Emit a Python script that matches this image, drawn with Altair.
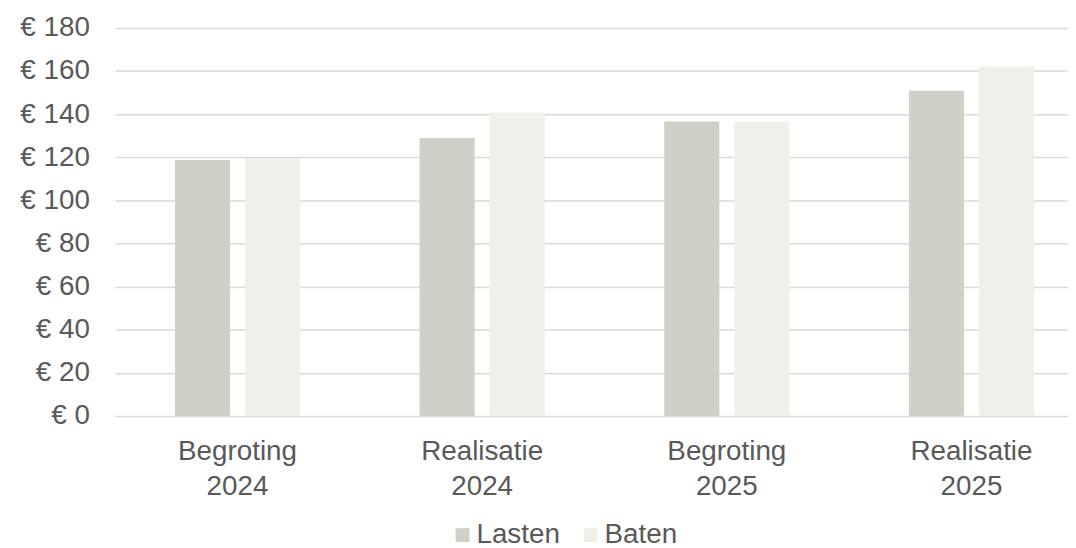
import altair as alt
import pandas as pd

categories = ["Begroting 2024", "Realisatie 2024", "Begroting 2025", "Realisatie 2025"]
lasten = [118.7, 128.9, 136.6, 150.8]
baten = [119.4, 140.8, 136.6, 162.1]
series = ["Lasten", "Baten"]
colors = ["#CFD0C8", "#EFF0EA"]
y_ticks = [0, 20, 40, 60, 80, 100, 120, 140, 160, 180]

rows = []
for c, l, b in zip(categories, lasten, baten):
    rows.append({"cat": c, "serie": "Lasten", "value": l})
    rows.append({"cat": c, "serie": "Baten", "value": b})
df = pd.DataFrame(rows)

FONT = "Liberation Sans"
TXT = "#595959"

chart = alt.Chart(df).mark_bar().encode(
    x=alt.X(
        "cat:N",
        sort=categories,
        scale=alt.Scale(range=[0, 986], paddingInner=0.4267, paddingOuter=0.2133),
        axis=alt.Axis(
            title=None,
            labelExpr="split(datum.label, ' ')",
            labelFontSize=28,
            labelFont=FONT,
            labelColor=TXT,
            labelPadding=22,
            labelLineHeight=35,
            ticks=False,
            domain=False,
            grid=False,
            labelAngle=0,
            labelBaseline="top",
        ),
    ),
    xOffset=alt.XOffset(
        "serie:N",
        sort=series,
        scale=alt.Scale(paddingInner=0.2143, paddingOuter=0.107),
    ),
    y=alt.Y(
        "value:Q",
        scale=alt.Scale(domain=[0, 180], nice=False),
        axis=alt.Axis(
            title=None,
            values=y_ticks,
            labelExpr="'€ ' + datum.value",
            labelFontSize=28,
            labelFont=FONT,
            labelColor=TXT,
            labelPadding=26,
            ticks=False,
            domain=False,
            grid=True,
            gridColor="#D9D9D9",
            gridWidth=1.5,
        ),
    ),
    color=alt.Color(
        "serie:N",
        sort=series,
        scale=alt.Scale(domain=series, range=colors),
        legend=alt.Legend(
            title=None,
            orient="none",
            direction="horizontal",
            legendX=336,
            legendY=497,
            symbolType="square",
            symbolSize=196,
            symbolStrokeWidth=0,
            labelFontSize=28,
            labelFont=FONT,
            labelColor=TXT,
            labelOffset=0,
            columnPadding=16,
            padding=0,
        ),
    ),
).properties(
    width=960,
    height=391,
    autosize=alt.AutoSizeParams(type="none"),
    padding={"left": 108, "top": 18, "right": 0, "bottom": 131},
).configure_view(stroke=None)

chart.save("out.html", embed_options={"renderer": "svg", "actions": False})
